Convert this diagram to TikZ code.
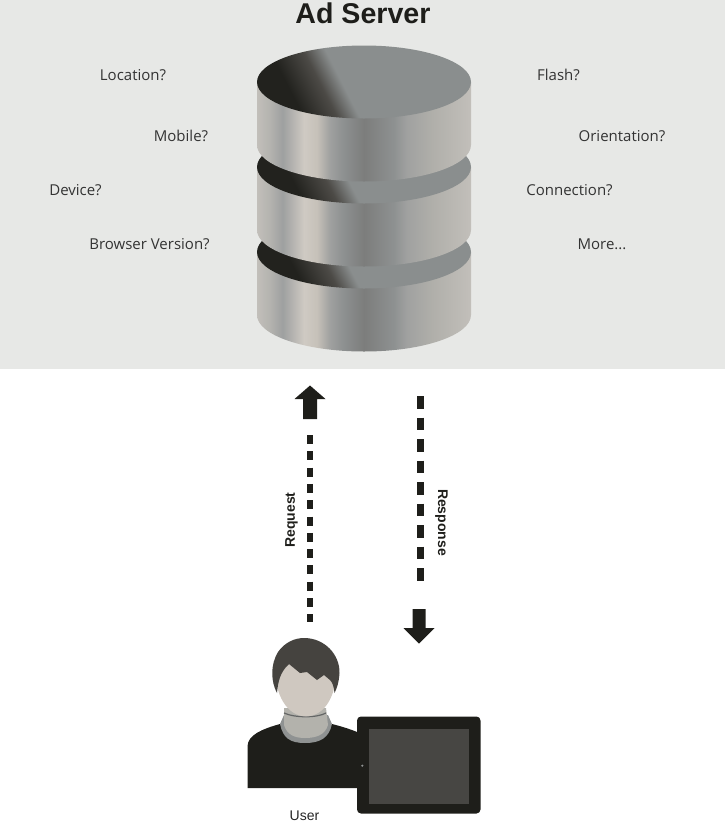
\documentclass[tikz,border=0pt]{standalone}
\usepackage{fontspec}
\setmainfont{Liberation Sans}
\newfontfamily\labelfont{Open Sans}
\definecolor{sidea}{HTML}{C2BFBA}
\definecolor{sideb}{HTML}{B4B3AF}
\definecolor{sidec}{HTML}{9EA0A0}
\definecolor{sided}{HTML}{CFCAC3}
\definecolor{sidee}{HTML}{C6C1B9}
\definecolor{sidef}{HTML}{A0A1A0}
\definecolor{sideg}{HTML}{8E9191}
\definecolor{sideh}{HTML}{7C7D7C}
\definecolor{sidei}{HTML}{B0AFAA}
\definecolor{diska}{HTML}{22221E}
\definecolor{diskb}{HTML}{4C4A46}
\definecolor{diskc}{HTML}{8A8E8E}
\definecolor{panel}{HTML}{E7E8E6}
\definecolor{ink}{HTML}{1E1E1A}
\definecolor{hair}{HTML}{45433F}
\definecolor{skin}{HTML}{CFC8C0}
\definecolor{neck}{HTML}{B3B2AC}
\definecolor{collar}{HTML}{8F9292}
\definecolor{screen}{HTML}{474643}
\pgfdeclarehorizontalshading{sideshade}{100bp}{
	color(0bp)=(sidea); color(25bp)=(sidea); color(28bp)=(sideb); color(31bp)=(sidec);
	color(36bp)=(sided); color(39bp)=(sidee); color(42bp)=(sidef); color(45bp)=(sideg);
	color(50bp)=(sideh); color(57bp)=(sideg); color(60bp)=(sidef); color(66bp)=(sidei);
	color(75bp)=(sidea); color(100bp)=(sidea)}
\pgfdeclarehorizontalshading{diskshade}{100bp}{
	color(0bp)=(diska); color(29bp)=(diska); color(38bp)=(diskb); color(44bp)=(diskc); color(100bp)=(diskc)}
\begin{document}
\begin{tikzpicture}
	[x=1pt,y=-1pt,
	question/.style={font=\labelfont\fontsize{15}{16}\selectfont,text=black!80,inner sep=0pt},
	side/.style={shading=sideshade},
	disk/.style={shading=diskshade,shading angle=27},
	reqline/.style={ink,line width=5.5pt,dash pattern=on 9pt off 7.3pt},
	respline/.style={ink,line width=7pt,dash pattern=on 12.7pt off 8.8pt},
	flowlabel/.style={font=\bfseries\fontsize{14}{16}\selectfont,text=ink,inner sep=0pt}]
		\useasboundingbox (0,0) rectangle (725,823);
		\fill[panel] (0,0) rectangle (725,369);
		\node[font=\bfseries\fontsize{28.6}{30}\selectfont,text=ink,inner sep=0pt] (title) at (363,13){Ad Server};
		\node[question] (location) at (133,75){Location?};
		\node[question] (mobile) at (181,136){Mobile?};
		\node[question] (device) at (75.5,190){Device?};
		\node[question] (browser) at (149.5,244){Browser Version?};
		\node[question] (flash) at (558.5,75){Flash?};
		\node[question] (orientation) at (622,136){Orientation?};
		\node[question] (connection) at (569.5,190){Connection?};
		\node[question] (more) at (602,244){More...};
		% cylinder, lowest layer first
		\foreach \ytop/\ybot in {252/315,167/230,82/145}{
			\shade[side] (257,\ytop) -- (257,\ybot) arc[start angle=180,end angle=0,x radius=107,y radius=36.5]
				-- (471,\ytop) -- cycle;
			\shade[disk] (364,\ytop) ellipse[x radius=107,y radius=36.5];
		}
		% request and response
		\coordinate (reqfrom) at (310,622);
		\coordinate (reqto) at (310,435);
		\draw[reqline] (reqto) -- (reqfrom);
		\fill[ink] (310,385.5) -- (325.5,399) -- (317,399) -- (317,419) -- (303,419) -- (303,399) -- (294.5,399) -- cycle;
		\coordinate (respfrom) at (420,396);
		\coordinate (respto) at (420,581);
		\draw[respline] (respfrom) -- (respto);
		\fill[ink] (419,643.5) -- (434.5,628) -- (425.5,628) -- (425.5,609) -- (412.5,609) -- (412.5,628) -- (403.5,628) -- cycle;
		\node[flowlabel,rotate=90] (request) at (291.5,520){Request};
		\node[flowlabel,rotate=-90] (response) at (441.5,522.5){Response};
		% user
		\fill[ink] (247.5,788) -- (247.5,746) .. controls (248,735) and (262,729) .. (280,724)
			-- (332,724) .. controls (340,726) and (350,729) .. (357,732) -- (357,788) -- cycle;
		\fill[collar] (280,724) .. controls (283,738) and (290,743) .. (305,743)
			.. controls (320,743) and (329,738) .. (332,724) -- (328,715) -- (284,715) -- cycle;
		\fill[neck] (284,708) -- (284,725) .. controls (287,735) and (295,738) .. (305,738)
			.. controls (316,738) and (325,735) .. (328,725) -- (326,708) -- cycle;
		\draw[collar!70!black,line width=1.2pt] (284,713) .. controls (295,718) and (317,718) .. (326,713);
		\fill[skin] (275,668) .. controls (275,650) and (337,650) .. (336,668)
			.. controls (337,695) and (325,716) .. (306,716.5)
			.. controls (287,716) and (275,695) .. (275,668) -- cycle;
		\fill[hair] (277,693) .. controls (271,682) and (270,665) .. (278,652)
			.. controls (285,642) and (295,638) .. (304,638)
			.. controls (325,638) and (340,655) .. (339.5,673)
			.. controls (339,682) and (337,688) .. (334.5,693)
			.. controls (334,686) and (332,682) .. (330,680)
			-- (324,675) -- (317,680) -- (307,672) -- (300,673) -- (289,664)
			.. controls (280,672) and (278,682) .. (277,693) -- cycle;
		% tablet
		\fill[ink,rounded corners=4pt] (357,716.5) rectangle (480.5,813.5);
		\fill[screen] (369,728.5) rectangle (469,803.5);
		\fill[collar] (362.3,765.7) circle[radius=1.2];
		\node[font=\fontsize{14}{16}\selectfont,text=black!85,inner sep=0pt] (user) at (304.5,816){User};
\end{tikzpicture}
\end{document}
